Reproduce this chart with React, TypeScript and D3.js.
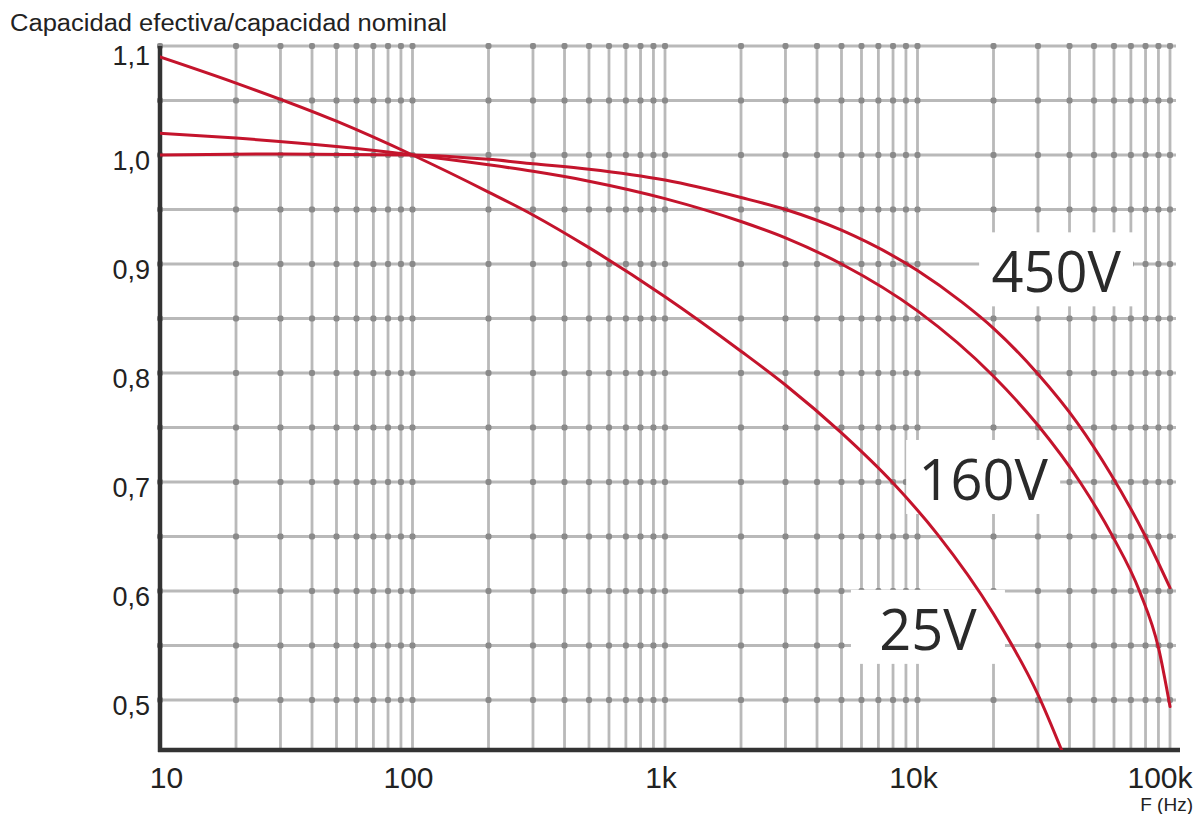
import * as d3 from 'd3';

// frequency (Hz) / ratio readings for each voltage curve
const freq450 = [10, 30, 100, 200, 300, 500, 1000, 2000, 3000, 5000, 10000, 15000, 20000, 30000, 43000, 58000, 80000, 100000];
const ratio450 = [1.0, 1.001, 1.0, 0.996, 0.992, 0.987, 0.977, 0.961, 0.95, 0.931, 0.894, 0.865, 0.841, 0.799, 0.754, 0.708, 0.65, 0.603];

const freq160 = [10, 20, 50, 100, 200, 300, 500, 1000, 2000, 3000, 5000, 10000, 20000, 30000, 44000, 59000, 76000, 90000, 100000];
const ratio160 = [1.02, 1.0155, 1.0077, 1.0, 0.991, 0.985, 0.976, 0.96, 0.939, 0.924, 0.9, 0.857, 0.797, 0.752, 0.7, 0.651, 0.599, 0.548, 0.494];

const freq25 = [10, 20, 50, 100, 200, 300, 500, 1000, 2000, 3000, 5000, 8000, 12000, 20000, 30000, 40000];
const ratio25 = [1.09, 1.066, 1.031, 1.0, 0.966, 0.945, 0.915, 0.87, 0.82, 0.789, 0.745, 0.699, 0.652, 0.579, 0.505, 0.436];

const seriesNames = ['450V', '160V', '25V'];
// label anchor (centre frequency, baseline ratio)
const labelFreq = [35400, 18200, 11000];
const labelRatio = [0.874, 0.6835, 0.546];

const xTicks = [10, 100, 1000, 10000, 100000];
const xTickLabels = ['10', '100', '1k', '10k', '100k'];
const yTicks = [1.1, 1.0, 0.9, 0.8, 0.7, 0.6, 0.5];
const yTickLabels = ['1,1', '1,0', '0,9', '0,8', '0,7', '0,6', '0,5'];

const RED = '#c4142c';
const GRID = '#b9b9b9';
const DOT = '#8a8a8a';
const AXIS = '#333333';

export default function App() {
  const width = 1199;
  const height = 814;

  const x = d3.scaleLog().domain([10, 100000]).range([160, 1170]);
  const y = d3.scaleLinear().domain([0.5, 1.1]).range([700, 46]);
  const plotTop = y(1.1);
  const plotBottom = y(0.5) + 50;
  const plotLeft = x(10);
  const plotRight = x(100000) + 6;

  const vGrid: number[] = [];
  [10, 100, 1000, 10000].forEach((d) => {
    for (let m = 1; m <= 9; m++) vGrid.push(d * m);
  });
  vGrid.push(100000);
  const hGrid = d3.range(0, 13).map((i) => 0.5 + i * 0.05);

  const series = [
    { name: '450V', f: freq450, r: ratio450 },
    { name: '160V', f: freq160, r: ratio160 },
    { name: '25V', f: freq25, r: ratio25 },
  ];

  const line = d3
    .line<[number, number]>()
    .x((d) => x(d[0]))
    .y((d) => y(d[1]))
    .curve(d3.curveMonotoneX);

  const boxW = 154;

  return (
    <svg
      width={width}
      height={height}
      viewBox={`0 0 ${width} ${height}`}
      style={{ position: 'absolute', left: 0, top: 0, background: '#fff' }}
      fontFamily="'Liberation Sans', Arial, sans-serif"
    >
      <defs>
        <clipPath id="plot-clip">
          <rect x={plotLeft} y={plotTop - 4} width={plotRight - plotLeft + 6} height={plotBottom - plotTop + 4} />
        </clipPath>
      </defs>

      <text x={10} y={31} fontSize={23} fill="#222" textLength={437} lengthAdjust="spacingAndGlyphs">
        Capacidad efectiva/capacidad nominal
      </text>

      {/* grid */}
      {vGrid.map((f) => (
        <line key={`v${f}`} x1={x(f)} x2={x(f)} y1={plotTop} y2={plotBottom} stroke={GRID} strokeWidth={2.8} />
      ))}
      {hGrid.map((v) => (
        <line key={`h${v.toFixed(2)}`} x1={plotLeft} x2={plotRight} y1={y(v)} y2={y(v)} stroke={GRID} strokeWidth={2.8} />
      ))}
      {hGrid.map((v) =>
        vGrid.map((f) => (
          <rect key={`d${v.toFixed(2)}-${f}`} x={x(f) - 3} y={y(v) - 3} width={6} height={6} rx={2} fill={DOT} />
        ))
      )}

      {/* white boxes behind the voltage labels */}
      {seriesNames.map((name, i) => (
        <rect
          key={`box-${name}`}
          x={x(labelFreq[i]) - boxW / 2}
          y={y(labelRatio[i]) - 60}
          width={boxW}
          height={74}
          fill="#fff"
        />
      ))}

      {/* axes */}
      <line x1={plotLeft} x2={plotLeft} y1={plotTop} y2={plotBottom + 2} stroke={AXIS} strokeWidth={4.5} />
      <line x1={plotLeft - 2} x2={plotRight + 4} y1={plotBottom} y2={plotBottom} stroke={AXIS} strokeWidth={4.5} />

      {/* curves */}
      <g clipPath="url(#plot-clip)">
        {series.map((s) => (
          <path
            key={s.name}
            d={line(s.f.map((f, i) => [f, s.r[i]] as [number, number])) ?? ''}
            fill="none"
            stroke={RED}
            strokeWidth={3}
            strokeLinecap="round"
          />
        ))}
      </g>

      {/* voltage labels */}
      {seriesNames.map((name, i) => (
        <text
          key={`lbl-${name}`}
          x={x(labelFreq[i])}
          y={y(labelRatio[i])}
          textAnchor="middle"
          fontFamily="'Open Sans', sans-serif"
          fontSize={56}
          fill="#2a2a2a"
        >
          {name}
        </text>
      ))}

      {/* y tick labels */}
      {yTicks.map((t, i) => (
        <text key={`yt${t}`} x={150} y={y(t) + (i === 0 ? 19 : 15)} textAnchor="end" fontSize={27} fill="#222">
          {yTickLabels[i]}
        </text>
      ))}

      {/* x tick labels */}
      {xTicks.map((t, i) => {
        const w = xTickLabels[i].length * 16.5;
        const cx = Math.min(Math.max(x(t) - 4, 150 + w / 2), 1193 - w / 2);
        return (
          <text key={`xt${t}`} x={cx} y={788} textAnchor="middle" fontSize={30} fill="#222">
            {xTickLabels[i]}
          </text>
        );
      })}
      <text x={1193} y={811} textAnchor="end" fontSize={19} fill="#222">
        F (Hz)
      </text>
    </svg>
  );
}
